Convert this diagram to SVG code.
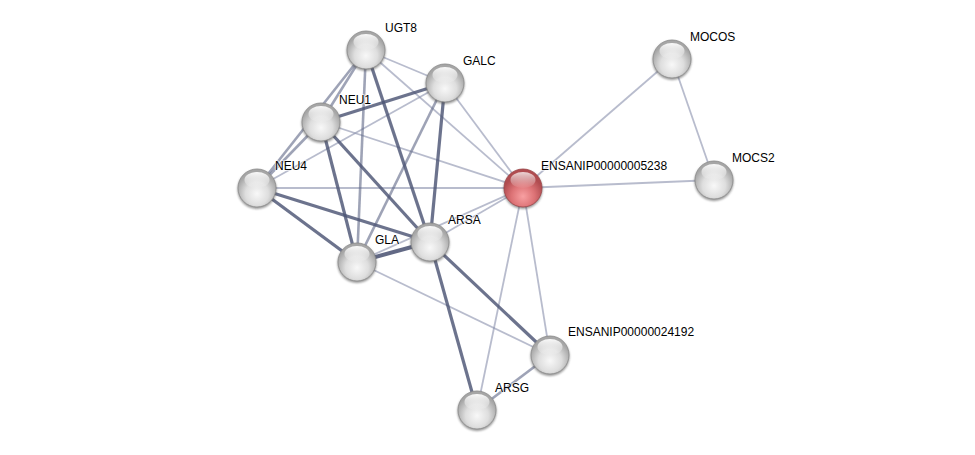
<svg xmlns="http://www.w3.org/2000/svg" xmlns:xlink="http://www.w3.org/1999/xlink" width="975" height="455" viewBox="0 0 975 455">
<defs>
<style>
.e{fill:none;stroke-linecap:butt}
.d{stroke:#4c5474;stroke-opacity:0.82;stroke-width:3.2}
.dd{stroke:#4c5474;stroke-opacity:0.88;stroke-width:4}
.m{stroke:#5d6586;stroke-opacity:0.6;stroke-width:2.6}
.l{stroke:#8990ab;stroke-opacity:0.6;stroke-width:1.8}
.lbl{font-family:"Liberation Sans",Arial,sans-serif;font-size:12px;fill:#000;stroke:#fff;stroke-width:2;stroke-opacity:0.6;paint-order:stroke;stroke-linejoin:round}
</style>
<radialGradient id="gb" cx="50%" cy="65%" r="55%">
<stop offset="0" stop-color="#f8f8f8"/>
<stop offset="0.55" stop-color="#dedede"/>
<stop offset="1" stop-color="#a6a6a6"/>
</radialGradient>
<radialGradient id="rb" cx="50%" cy="72%" r="55%">
<stop offset="0" stop-color="#f8a0a2"/>
<stop offset="0.55" stop-color="#dd7376"/>
<stop offset="1" stop-color="#b04c50"/>
</radialGradient>
<linearGradient id="hl" x1="0" y1="0" x2="0" y2="1">
<stop offset="0" stop-color="#fff" stop-opacity="0.95"/>
<stop offset="1" stop-color="#fff" stop-opacity="0.05"/>
</linearGradient>
<filter id="sh" x="-50%" y="-50%" width="200%" height="200%">
<feGaussianBlur stdDeviation="1.2"/>
</filter>
<g id="gn">
<circle cx="0" cy="1.5" r="19.5" fill="#444" opacity="0.55" filter="url(#sh)"/>
<circle r="19" fill="url(#gb)" stroke="#8c8c8c" stroke-width="0.8"/>
<ellipse cx="0" cy="-8" rx="12.5" ry="8" fill="url(#hl)"/>
</g>
<g id="rn">
<circle cx="0" cy="1.5" r="19.5" fill="#444" opacity="0.55" filter="url(#sh)"/>
<circle r="19" fill="url(#rb)" stroke="#9c4448" stroke-width="0.8"/>
<ellipse cx="0" cy="-8" rx="12.5" ry="8" fill="url(#hl)" opacity="0.8"/>
</g>
</defs>
<rect width="975" height="455" fill="#fff"/>
<g id="edges" class="e">
<line class="l" x1="366" y1="50" x2="445" y2="83"/>
<line class="l" x1="366" y1="50" x2="523" y2="188"/>
<line class="l" x1="445" y1="83" x2="257" y2="188"/>
<line class="l" x1="445" y1="83" x2="523" y2="188"/>
<line class="l" x1="321" y1="122" x2="523" y2="188"/>
<line class="l" x1="257" y1="188" x2="523" y2="188"/>
<line class="l" x1="430" y1="242" x2="523" y2="188"/>
<line class="l" x1="357" y1="262" x2="523" y2="188"/>
<line class="l" x1="357" y1="262" x2="550" y2="355"/>
<line class="l" x1="523" y1="188" x2="550" y2="355"/>
<line class="l" x1="523" y1="188" x2="477" y2="410"/>
<line class="l" x1="523" y1="188" x2="672" y2="59"/>
<line class="l" x1="523" y1="188" x2="714" y2="180"/>
<line class="l" x1="672" y1="59" x2="714" y2="180"/>
<line class="m" x1="366" y1="50" x2="321" y2="122"/>
<line class="m" x1="366" y1="50" x2="257" y2="188"/>
<line class="m" x1="366" y1="50" x2="357" y2="262"/>
<line class="m" x1="321" y1="122" x2="257" y2="188"/>
<line class="m" x1="445" y1="83" x2="357" y2="262"/>
<line class="m" x1="550" y1="355" x2="477" y2="410"/>
<line class="d" x1="366" y1="50" x2="430" y2="242"/>
<line class="d" x1="445" y1="83" x2="321" y2="122"/>
<line class="d" x1="445" y1="83" x2="430" y2="242"/>
<line class="d" x1="321" y1="122" x2="357" y2="262"/>
<line class="d" x1="321" y1="122" x2="430" y2="242"/>
<line class="d" x1="257" y1="188" x2="430" y2="242"/>
<line class="d" x1="257" y1="188" x2="357" y2="262"/>
<line class="d" x1="430" y1="242" x2="550" y2="355"/>
<line class="d" x1="430" y1="242" x2="477" y2="410"/>
<line class="dd" x1="357" y1="262" x2="430" y2="242"/>
</g>
<g id="UGT8"><use xlink:href="#gn" x="366" y="50"/><text class="lbl" x="385" y="32">UGT8</text></g>
<g id="GALC"><use xlink:href="#gn" x="445" y="83"/><text class="lbl" x="463" y="65">GALC</text></g>
<g id="NEU1"><use xlink:href="#gn" x="321" y="122"/><text class="lbl" x="339" y="104">NEU1</text></g>
<g id="NEU4"><use xlink:href="#gn" x="257" y="188"/><text class="lbl" x="275" y="170">NEU4</text></g>
<g id="GLA"><use xlink:href="#gn" x="357" y="262"/><text class="lbl" x="375" y="244">GLA</text></g>
<g id="ARSA"><use xlink:href="#gn" x="430" y="242"/><text class="lbl" x="448" y="224">ARSA</text></g>
<g id="ENSANIP00000005238"><use xlink:href="#rn" x="523" y="188"/><text class="lbl" x="541" y="170">ENSANIP00000005238</text></g>
<g id="MOCOS"><use xlink:href="#gn" x="672" y="59"/><text class="lbl" x="690" y="41">MOCOS</text></g>
<g id="MOCS2"><use xlink:href="#gn" x="714" y="180"/><text class="lbl" x="732" y="162">MOCS2</text></g>
<g id="ENSANIP00000024192"><use xlink:href="#gn" x="550" y="355"/><text class="lbl" x="568" y="336">ENSANIP00000024192</text></g>
<g id="ARSG"><use xlink:href="#gn" x="477" y="410"/><text class="lbl" x="495" y="392">ARSG</text></g>
</svg>
